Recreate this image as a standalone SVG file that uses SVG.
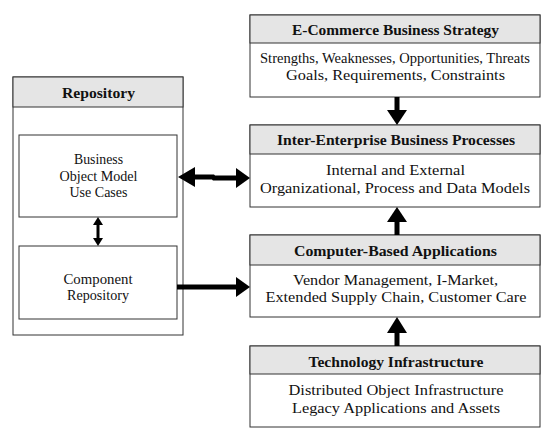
<svg xmlns="http://www.w3.org/2000/svg" width="554" height="443" viewBox="0 0 554 443">
<defs>
<style>
.box{fill:#fff;stroke:#333;stroke-width:1}
.hdr{fill:#e5e5e5;stroke:#333;stroke-width:1}
text{font-family:"Liberation Serif","DejaVu Serif",serif;fill:#111;text-anchor:middle}
.h{font-size:15.4px;font-weight:bold}
.b{font-size:14.8px}
.s{font-size:14px}
.shaft{stroke:#000;stroke-width:5;fill:none}
.thin{stroke:#000;stroke-width:3;fill:none}
.head{fill:#000}
</style>
</defs>
<rect width="554" height="443" fill="#fff"/>

<g id="strategy">
<rect class="box" x="250" y="15" width="290" height="82"/>
<rect class="hdr" x="250" y="15" width="290" height="28"/>
<text class="h" x="395.5" y="35" textLength="207" lengthAdjust="spacingAndGlyphs">E-Commerce Business Strategy</text>
<text class="b" x="395" y="63" textLength="270" lengthAdjust="spacingAndGlyphs">Strengths, Weaknesses, Opportunities, Threats</text>
<text class="b" x="395.5" y="80" textLength="219" lengthAdjust="spacingAndGlyphs">Goals, Requirements, Constraints</text>
</g>

<g id="processes">
<rect class="box" x="250" y="125" width="290" height="82"/>
<rect class="hdr" x="250" y="125" width="290" height="29"/>
<text class="h" x="396" y="145" textLength="238" lengthAdjust="spacingAndGlyphs">Inter-Enterprise Business Processes</text>
<text class="b" x="395.5" y="175" textLength="139" lengthAdjust="spacingAndGlyphs">Internal and External</text>
<text class="b" x="395" y="193" textLength="270" lengthAdjust="spacingAndGlyphs">Organizational, Process and Data Models</text>
</g>

<g id="applications">
<rect class="box" x="250" y="235" width="290" height="82"/>
<rect class="hdr" x="250" y="235" width="290" height="30"/>
<text class="h" x="395.5" y="256" textLength="203" lengthAdjust="spacingAndGlyphs">Computer-Based Applications</text>
<text class="b" x="395.5" y="285" textLength="205" lengthAdjust="spacingAndGlyphs">Vendor Management, I-Market,</text>
<text class="b" x="396" y="302" textLength="261" lengthAdjust="spacingAndGlyphs">Extended Supply Chain, Customer Care</text>
</g>

<g id="technology">
<rect class="box" x="250" y="346" width="290" height="81"/>
<rect class="hdr" x="250" y="346" width="290" height="28"/>
<text class="h" x="396" y="367" textLength="175" lengthAdjust="spacingAndGlyphs">Technology Infrastructure</text>
<text class="b" x="396" y="395" textLength="215" lengthAdjust="spacingAndGlyphs">Distributed Object Infrastructure</text>
<text class="b" x="396" y="413" textLength="208" lengthAdjust="spacingAndGlyphs">Legacy Applications and Assets</text>
</g>

<g id="repository">
<rect class="box" x="13" y="77" width="170" height="258"/>
<rect class="hdr" x="13" y="77" width="170" height="30"/>
<text class="h" x="98.5" y="98" textLength="73" lengthAdjust="spacingAndGlyphs">Repository</text>
</g>

<g id="business-object-model">
<rect class="box" x="19" y="135" width="158" height="82"/>
<text class="s" x="98.5" y="164" textLength="49" lengthAdjust="spacingAndGlyphs">Business</text>
<text class="s" x="98.5" y="181" textLength="78" lengthAdjust="spacingAndGlyphs">Object Model</text>
<text class="s" x="98.5" y="197" textLength="58" lengthAdjust="spacingAndGlyphs">Use Cases</text>
</g>

<g id="component-repository">
<rect class="box" x="19" y="246" width="158" height="73"/>
<text class="s" x="98" y="284" textLength="69" lengthAdjust="spacingAndGlyphs">Component</text>
<text class="s" x="98" y="300" textLength="62" lengthAdjust="spacingAndGlyphs">Repository</text>
</g>

<g id="connectors">
<line class="shaft" x1="397" y1="97" x2="397" y2="111"/>
<polygon class="head" points="387,110 407,110 397,125"/>
<line class="shaft" x1="397" y1="235" x2="397" y2="221"/>
<polygon class="head" points="387,222 407,222 397,207"/>
<line class="shaft" x1="397" y1="346" x2="397" y2="331"/>
<polygon class="head" points="387,333 407,333 397,317"/>
<polyline class="shaft" points="193,177 213,177 214,178 238,178"/>
<polygon class="head" points="178,177 195,167 195,187"/>
<polygon class="head" points="250,178 236,168 236,188"/>
<line class="thin" x1="98" y1="224" x2="98" y2="239"/>
<polygon class="head" points="98,217 93,225 103,225"/>
<polygon class="head" points="98,246 93,238 103,238"/>
<line class="shaft" x1="177" y1="287" x2="238" y2="287"/>
<polygon class="head" points="250,287 236,277 236,297"/>
</g>
</svg>
